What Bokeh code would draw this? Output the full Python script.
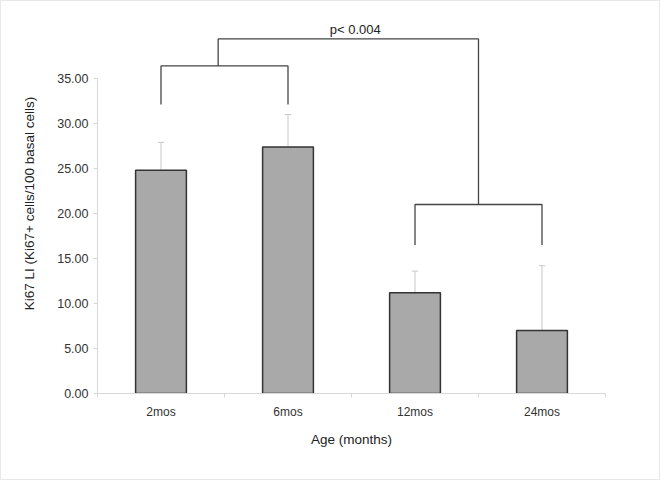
from bokeh.plotting import figure
from bokeh.models import FixedTicker, Range1d, ColumnDataSource
from bokeh.embed import file_html
from bokeh.resources import INLINE
from bokeh.core.properties import value

# ---- data ----
categories = ["2mos", "6mos", "12mos", "24mos"]
means = [24.8, 27.4, 11.2, 7.0]
upper = [27.9, 31.0, 13.6, 14.2]          # mean + SD (upper error bar)
y_ticks = [0, 5, 10, 15, 20, 25, 30, 35]

# bracket annotation (levels in data units)
group1 = [0, 1]
group1_leg_bottom = 32.1
group1_top = 36.4
group1_riser_x = 0.95
group2 = [2, 3]
group2_leg_bottom = 16.5
group2_top = 21.0
overall_top = 39.4
p_label = "p< 0.004"
p_label_x = 2.03
p_label_y = 40.4

FONT = "Liberation Sans"

xc = [i + 0.5 for i in range(len(categories))]

p = figure(width=660, height=480, output_backend="svg", toolbar_location=None,
           x_range=Range1d(0, 4), y_range=Range1d(0, 380 / 9),
           min_border_left=96, min_border_right=56, min_border_top=12,
           min_border_bottom=88)
p.styles = {"border": "1px solid #e8e8e8"}
p.outline_line_color = None
p.xgrid.visible = False
p.ygrid.visible = False

src = ColumnDataSource(dict(x=xc, top=means, up=upper,
                            cl=[x - 0.025 for x in xc], cr=[x + 0.025 for x in xc]))

# error bars (upper only)
p.segment(x0="x", y0="top", x1="x", y1="up", source=src, line_color="#c8c8c8", line_width=1)
p.segment(x0="cl", y0="up", x1="cr", y1="up", source=src, line_color="#c8c8c8", line_width=1)

# bars
p.vbar(x="x", top="top", bottom=0, width=0.4, source=src,
       fill_color="#a9a9a9", line_color="#333333", line_width=1.5)

# brackets
bc = "#444444"
bw = 1.3
g1l, g1r = xc[group1[0]], xc[group1[1]]
g2l, g2r = xc[group2[0]], xc[group2[1]]
g2m = (g2l + g2r) / 2
p.line([g1l, g1l, g1r, g1r], [group1_leg_bottom, group1_top, group1_top, group1_leg_bottom],
       line_color=bc, line_width=bw)
p.line([g2l, g2l, g2r, g2r], [group2_leg_bottom, group2_top, group2_top, group2_leg_bottom],
       line_color=bc, line_width=bw)
p.line([group1_riser_x, group1_riser_x, g2m, g2m], [group1_top, overall_top, overall_top, group2_top],
       line_color=bc, line_width=bw)
p.text(x=[p_label_x], y=[p_label_y], text=[p_label], text_align="center",
       text_baseline="alphabetic", text_font=value(FONT), text_font_size="13px",
       text_color="#222222")

# y axis
ya = p.yaxis[0]
ya.ticker = FixedTicker(ticks=y_ticks)
ya.bounds = (0, 35)
ya.major_label_overrides = {t: f"{t:.2f}" for t in y_ticks}
ya.axis_line_color = "#d8d8d8"
ya.major_tick_line_color = "#d8d8d8"
ya.major_tick_out = 4
ya.major_tick_in = 0
ya.minor_tick_line_color = None
ya.major_label_standoff = 5
ya.major_label_text_font = FONT
ya.major_label_text_font_size = "12.5px"
ya.major_label_text_color = "#333333"
ya.axis_label = "Ki67 LI (Ki67+ cells/100 basal cells)"
ya.axis_label_text_font = FONT
ya.axis_label_text_font_size = "13.5px"
ya.axis_label_text_font_style = "normal"
ya.axis_label_text_color = "#222222"
ya.axis_label_standoff = 17

# x axis
xa = p.xaxis[0]
xa.ticker = FixedTicker(ticks=xc, minor_ticks=list(range(len(categories) + 1)))
xa.major_label_overrides = {x: c for x, c in zip(xc, categories)}
xa.axis_line_color = "#d8d8d8"
xa.major_tick_line_color = None
xa.major_tick_out = 0
xa.major_tick_in = 0
xa.minor_tick_line_color = "#d8d8d8"
xa.minor_tick_out = 4
xa.minor_tick_in = 0
xa.major_label_standoff = 7
xa.major_label_text_font = FONT
xa.major_label_text_font_size = "12px"
xa.major_label_text_color = "#333333"
xa.axis_label = "Age (months)"
xa.axis_label_text_font = FONT
xa.axis_label_text_font_size = "13.5px"
xa.axis_label_text_font_style = "normal"
xa.axis_label_text_color = "#222222"
xa.axis_label_standoff = 10

open("out.html", "w").write(file_html(p, INLINE))
